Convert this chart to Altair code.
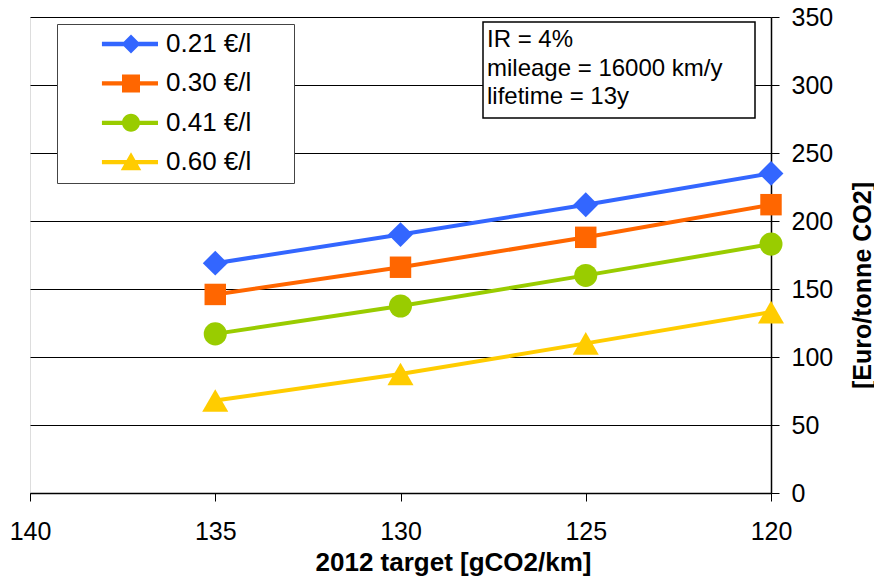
import altair as alt
import pandas as pd

# ---- data ----
targets = [135, 130, 125, 120]
series = ["0.21 €/l", "0.30 €/l", "0.41 €/l", "0.60 €/l"]
v021 = [169, 190, 212, 235]
v030 = [146, 166, 188, 212]
v041 = [117, 137.5, 160, 183]
v060 = [68, 87.5, 110, 133]
x_ticks = [140, 135, 130, 125, 120]
y_ticks = [0, 50, 100, 150, 200, 250, 300, 350]
note_lines = ["IR = 4%", "mileage = 16000 km/y", "lifetime = 13y"]

# ---- styles ----
colors = ["#3366FF", "#FF6600", "#99CC00", "#FFCC00"]
markers = ["diamond", "square", "circle", "triangle-up"]
marker_sizes = [620, 460, 530, 680]
FONT = "Liberation Sans"

# legend symbols: line segment + marker (custom SVG paths, unit = symbol radius);
# the trailing zero-area sub-path only widens the legend frame
bar = "M2.77,-0.24H9.0V0.24H2.77Z "
pad = " M23.3,0L23.3,0Z"
legend_paths = [
    bar + "M6.0,-1.05L7.05,0L6.0,1.05L4.95,0Z" + pad,
    bar + "M5.0,-1H7.0V1H5.0Z" + pad,
    bar + "M7.0,0A1,1 0 1,1 5.0,0A1,1 0 1,1 7.0,0Z" + pad,
    bar + "M6.0,-1.1L7.14,0.9H4.86Z" + pad,
]

rows = []
for s, vals in zip(series, [v021, v030, v041, v060]):
    for t, v in zip(targets, vals):
        rows.append({"series": s, "target": t, "cost": v})
df = pd.DataFrame(rows)

x = alt.X(
    "target:Q",
    scale=alt.Scale(domain=[120, 140], reverse=True, nice=False, zero=False),
    axis=alt.Axis(
        values=x_ticks, title="2012 target [gCO2/km]", grid=False,
        domainColor="black", domainWidth=1.5, tickColor="black", tickSize=8,
        labelFontSize=25, labelColor="black", labelPadding=18, labelFont=FONT,
        labelFlush=False,
        titleFontSize=26, titleFontWeight="bold", titleColor="black",
        titleFont=FONT, titleX=423, titleY=69, titleAlign="center",
        titleBaseline="middle",
    ),
)
y = alt.Y(
    "cost:Q",
    scale=alt.Scale(domain=[0, 350], nice=False),
    axis=alt.Axis(
        orient="right", values=y_ticks, title="[Euro/tonne CO2]",
        grid=True, gridColor="black", gridWidth=1, gridOpacity=1,
        domainColor="black", domainWidth=1.5, tickColor="black", tickSize=8,
        labelFontSize=25, labelColor="black", labelPadding=12, labelFont=FONT,
        labelFlush=False,
        titleFontSize=25, titleFontWeight="bold", titleColor="black",
        titleFont=FONT, titleAngle=270, titleAlign="center", titleBaseline="middle",
        titleX=91, titleY=268,
    ),
)

base = alt.Chart(df)

series_layers = []
for s, c in zip(series, colors):
    series_layers.append(
        base.transform_filter(alt.datum.series == s)
        .mark_line(strokeWidth=4, color=c)
        .encode(x=x, y=y)
    )
for s, c, m, sz in zip(series, colors, markers, marker_sizes):
    series_layers.append(
        base.transform_filter(alt.datum.series == s)
        .mark_point(filled=True, shape=m, size=sz, color=c, opacity=1)
        .encode(x=x, y=y)
    )

legend_def = alt.Legend(
    title=None, orient="none", legendX=27, legendY=7, padding=7,
    fillColor="white", strokeColor="#444444",
    symbolSize=324, symbolStrokeWidth=0, symbolOpacity=1,
    labelOffset=76, labelFontSize=26, labelFont=FONT, labelColor="black",
    rowPadding=13.4,
)

# legend-only layer: no rows reach the marks, the explicit scale domain feeds the legend
legend_layer = base.transform_filter(alt.datum.cost < 0).mark_point(
    filled=True, size=324, opacity=1
).encode(
    x=x, y=y,
    color=alt.Color("series:N", scale=alt.Scale(domain=series, range=colors), legend=legend_def),
    shape=alt.Shape("series:N", scale=alt.Scale(domain=series, range=legend_paths), legend=legend_def),
)

note_box = alt.Chart(alt.Data(values=[{}])).mark_rect(
    fill="white", stroke="black", strokeWidth=1.5
).encode(x=alt.value(453), x2=alt.value(725), y=alt.value(5), y2=alt.value(101))

note_text = alt.Chart(alt.Data(values=[{}])).mark_text(
    text=note_lines, align="left", baseline="alphabetic", fontSize=24,
    lineHeight=28.5, font=FONT, color="black",
).encode(x=alt.value(457), y=alt.value(30))

chart = alt.layer(*series_layers, legend_layer, note_box, note_text).properties(
    width=741, height=476,
    padding={"left": 30, "top": 17, "right": 103, "bottom": 83},
    autosize="none",
).configure_view(stroke="black", strokeWidth=1).configure(font=FONT)

chart.save("out.html", embed_options={"renderer": "svg", "actions": False})
